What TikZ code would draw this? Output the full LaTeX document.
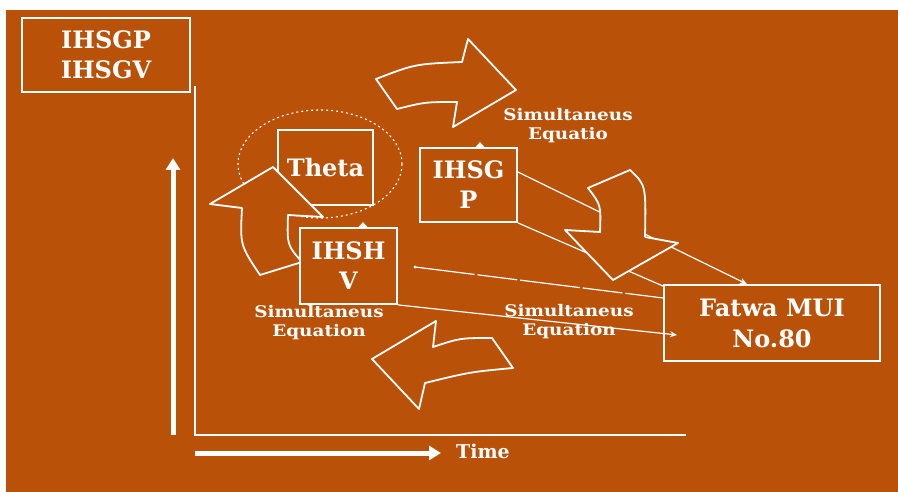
\documentclass[tikz,border=0pt]{standalone}
\usepackage{fontspec}
\setmainfont{DejaVu Serif}
\newfontfamily\labfont{DejaVu Serif}[FakeStretch=1.15]
\usetikzlibrary{arrows.meta,calc}
\definecolor{bgorange}{RGB}{185,81,9}
\begin{document}
\begin{tikzpicture}[x=1pt,y=-1pt,
  boxnode/.style={draw=white,line width=1.8pt,fill=bgorange,text=white,align=center,inner sep=0pt,font=\bfseries\fontsize{24}{30}\selectfont},
  lab/.style={text=white,align=center,font=\labfont\bfseries\fontsize{16}{19}\selectfont},
  conn/.style={draw=white,line width=1.2pt},
  tipconn/.style={conn,-{Stealth[length=7pt,width=6pt]}},
  blockarrow/.style={draw=white,line width=1.8pt,fill=bgorange,line join=round},
  axisline/.style={draw=white,line width=2.6pt},
  bigarrow/.style={draw=white,line width=5pt,-{Triangle[length=12pt,width=14pt]}},
]
\useasboundingbox (0,0) rectangle (898,492);
\fill[white] (0,0) rectangle (898,492);
\fill[bgorange] (6,10) rectangle (898,492);

% dotted ellipse round Theta
\draw[white,line width=1.1pt,dash pattern=on 2pt off 3pt] (320,164) ellipse [x radius=82, y radius=54];

% axes
\coordinate (ytop) at (195,86);
\coordinate (corner) at (195,435);
\coordinate (xend) at (686,435);
\draw[axisline] (ytop) -- (corner) -- (xend);
\coordinate (upA) at (173,435);
\coordinate (upB) at (173,158);
\draw[bigarrow] (upA) -- (upB);
\coordinate (rtA) at (195,453);
\coordinate (rtB) at (441,453);
\draw[bigarrow] (rtA) -- (rtB);
\node[text=white,font=\bfseries\fontsize{19}{22}\selectfont] (time) at (483,451) {Time};

% legend box
\node[boxnode,minimum width=168pt,minimum height=74pt] (legend) at (106,55) {IHSGP\\IHSGV};

% boxes drawn first (underneath arrows)
\node[boxnode,minimum width=95pt,minimum height=75pt] (theta) at (325.5,167.5) {Theta};
\node[boxnode,minimum width=216pt,minimum height=76pt,font=\bfseries\fontsize{24}{31}\selectfont] (fatwa) at (772,323) {Fatwa MUI\\No.80};
\node[boxnode,minimum width=97pt,minimum height=74pt] (ihsgp) at (468.5,185) {IHSG\\P};

% connectors
\draw[tipconn] ([yshift=13pt]ihsgp.east) -- ([xshift=-25pt]fatwa.north);
\draw[conn] (ihsgp.south east) -- ([yshift=-2pt]fatwa.north west);
\coordinate (cstart) at (415,267);
\fill[white] (cstart) circle (1.6pt);
\draw[conn,dash pattern=on 60pt off 3pt on 40pt off 3pt] (cstart) -- ([yshift=25pt]fatwa.west);

% block arrows
\draw[blockarrow] (376,79) .. controls (415,64) .. (462,62) -- (468,39) -- (516,90) -- (453,127) -- (457,102) .. controls (425,102) .. (397,109) -- cycle;
\draw[blockarrow] (588,188) -- (630,170) .. controls (646,185) .. (645,237) -- (678,243) -- (613,280) -- (565,230) -- (600,232) .. controls (601,205) .. cycle;
\draw[blockarrow] (372,359) -- (436,321) -- (433,347) .. controls (460,338) .. (492,338) -- (513,368) .. controls (470,372) .. (425,383) -- (419,409) -- cycle;
\draw[blockarrow] (210,204) -- (273,167) -- (323,217) -- (288,215) .. controls (287,245) .. (302,262) -- (260,275) .. controls (240,245) .. (242,208) -- cycle;

% IHSHV box on top of left arrow
\node[boxnode,minimum width=97pt,minimum height=76pt] (ihshv) at (348.5,266) {IHSH\\V};
\draw[tipconn] (ihshv.south east) -- ([xshift=14pt,yshift=-12pt]fatwa.west);

% small tips on box tops
\fill[white] ([xshift=10pt]ihshv.north) -- ([xshift=14.5pt,yshift=5pt]ihshv.north) -- ([xshift=19pt]ihshv.north) -- cycle;
\fill[white] ([xshift=7pt]ihsgp.north) -- ([xshift=11.5pt,yshift=5pt]ihsgp.north) -- ([xshift=16pt]ihsgp.north) -- cycle;

% labels
\node[lab] (labtop) at (568,126) {Simultaneus\\Equatio};
\node[lab] (lableft) at (319,323) {Simultaneus\\Equation};
\node[lab] (labmid) at (569,322) {Simultaneus\\Equation};
\end{tikzpicture}
\end{document}
